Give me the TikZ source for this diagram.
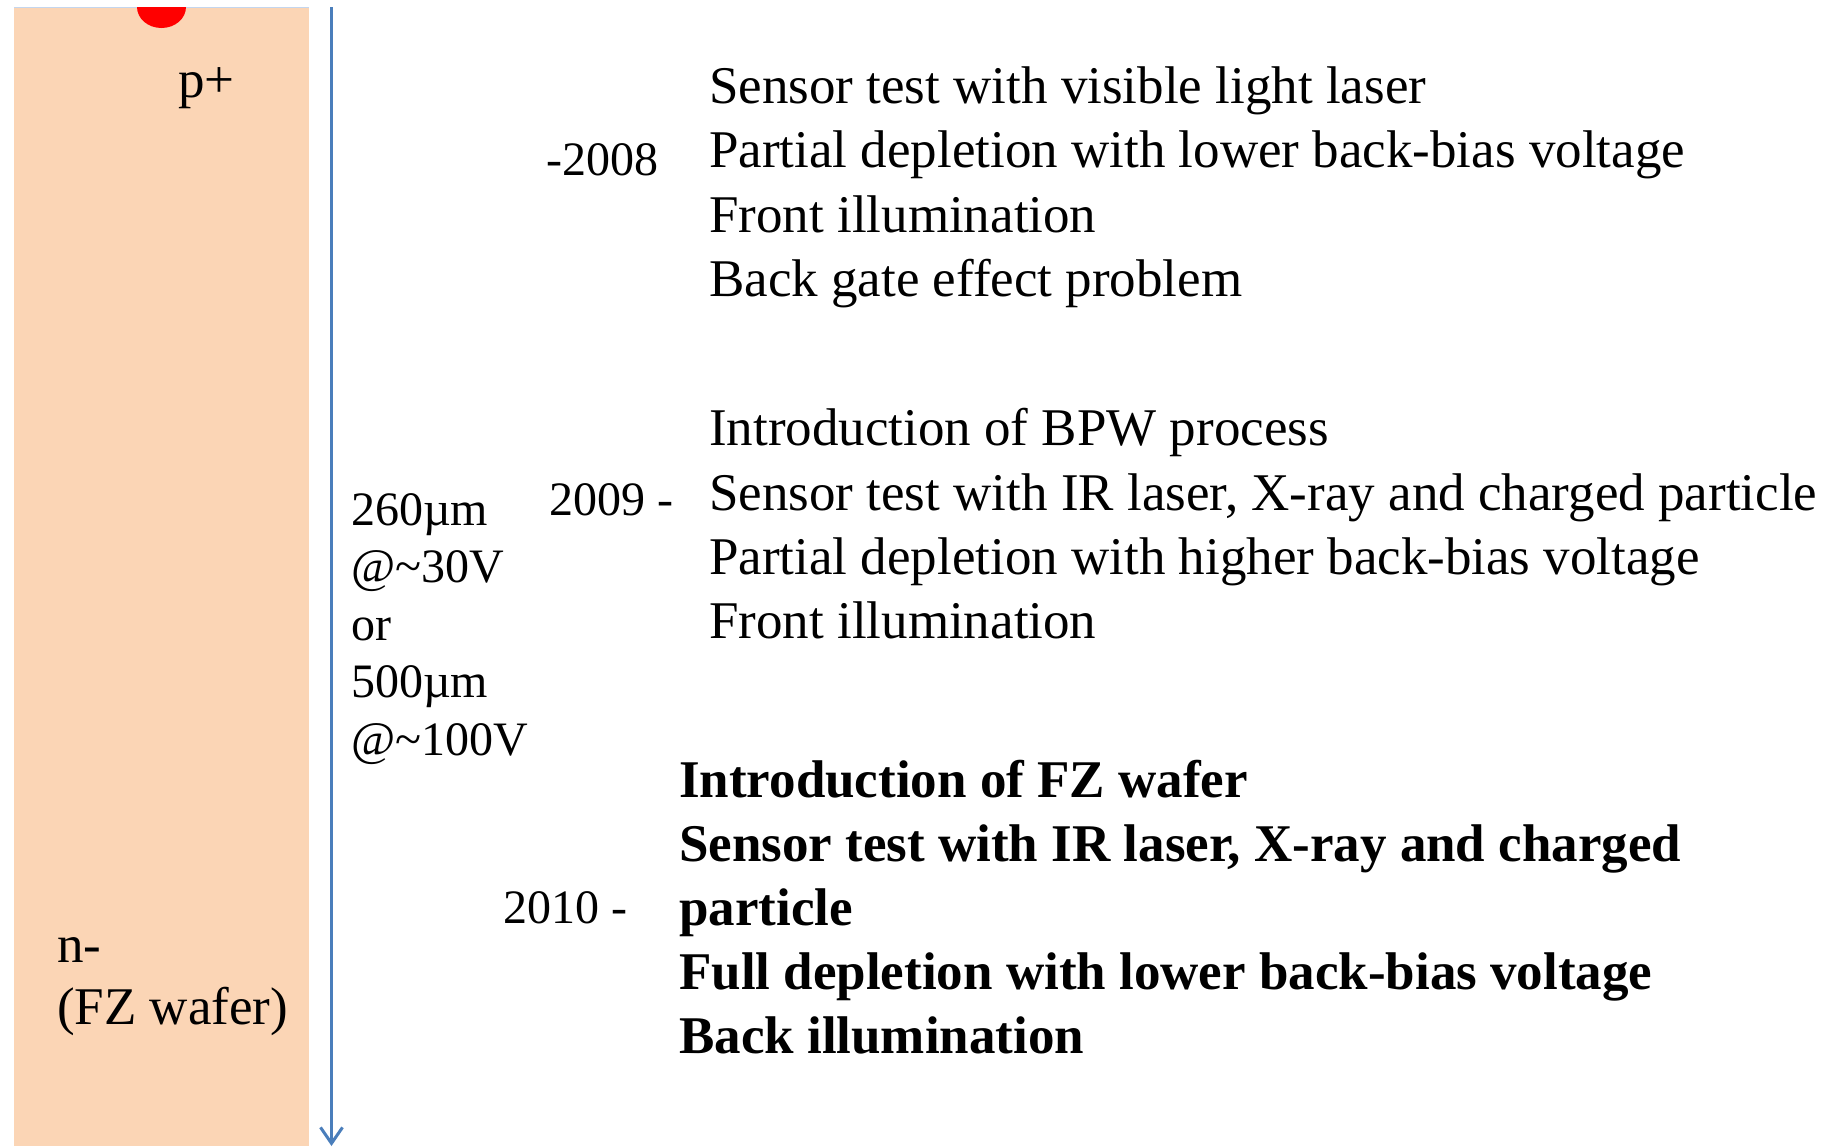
\documentclass[tikz,border=0pt]{standalone}
\usepackage{fontspec}
\setmainfont{Liberation Serif}
\usetikzlibrary{arrows.meta}
\definecolor{wafer}{RGB}{251,213,181}
\definecolor{arrowblue}{RGB}{74,126,187}
\definecolor{topline}{RGB}{196,214,238}
\definecolor{dotred}{RGB}{255,0,0}
\tikzset{
  main/.style={anchor=base west, inner sep=0pt, font=\fontsize{53}{63.6}\selectfont},
  mainb/.style={main, font=\fontsize{53}{63.6}\selectfont\bfseries},
  small/.style={anchor=base west, inner sep=0pt, font=\fontsize{48}{57.6}\selectfont},
  timeline/.style={draw=arrowblue, line width=3pt, -{Straight Barb[length=16pt,width=22pt,line width=3pt]}}
}
\begin{document}
\begin{tikzpicture}[x=1pt,y=-1pt]
\useasboundingbox (0,0) rectangle (1843,1146);
% wafer
\fill[wafer] (14,7.5) rectangle (309,1146);
\draw[topline, line width=1.5pt] (14,7.5) -- (309,7.5);
\begin{scope}
  \clip (14,7) rectangle (309,1146);
  \fill[dotred] (161.5,7) ellipse [x radius=24.5, y radius=21];
\end{scope}
\node[main] (pplus) at (178,97) {p+};
\node[main] (nminus) at (57,962) {n-};
\node[main] (fz) at (57,1024) {(FZ wafer)};
% timeline arrow
\coordinate (tstart) at (331.5,7);
\coordinate (tend) at (331.5,1146);
\draw[timeline] (tstart) -- (tend);
% thickness labels
\node[small] (t1) at (351,525) {260µm};
\node[small] (t2) at (351,582.5) {@\char"007E 30V};
\node[small] (t3) at (351,640) {or};
\node[small] (t4) at (351,697.5) {500µm};
\node[small] (t5) at (351,755) {@\char"007E 100V};
% years
\node[small] (y2008) at (546,175) {-2008};
\node[small] (y2009) at (549,515) {2009 -};
\node[small] (y2010) at (503,923) {2010 -};
% block 1
\node[main] (a1) at (709,103) {Sensor test with visible light laser};
\node[main] (a2) at (709,167) {Partial depletion with lower back-bias voltage};
\node[main] (a3) at (709,232) {Front illumination};
\node[main] (a4) at (709,296) {Back gate effect problem};
% block 2
\node[main] (b1) at (709,445) {Introduction of BPW process};
\node[main] (b2) at (709,510) {Sensor test with IR laser, X-ray and charged particle};
\node[main] (b3) at (709,574) {Partial depletion with higher back-bias voltage};
\node[main] (b4) at (709,638) {Front illumination};
% block 3
\node[mainb] (c1) at (679,797) {Introduction of FZ wafer};
\node[mainb] (c2) at (679,861) {Sensor test with IR laser, X-ray and charged};
\node[mainb] (c3) at (679,925) {particle};
\node[mainb] (c4) at (679,989) {Full depletion with lower back-bias voltage};
\node[mainb] (c5) at (679,1053) {Back illumination};
\end{tikzpicture}
\end{document}
